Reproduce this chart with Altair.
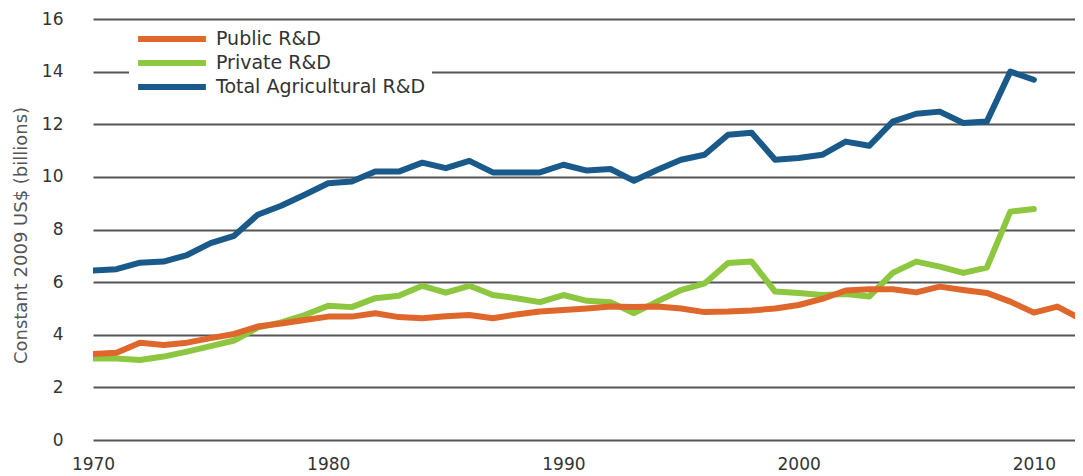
import altair as alt
import pandas as pd

years = list(range(1970, 2013))

public_rd = [3.27, 3.32, 3.70, 3.61, 3.70, 3.87, 4.03, 4.31, 4.43, 4.56,
             4.69, 4.69, 4.82, 4.67, 4.63, 4.70, 4.75, 4.63, 4.77, 4.88,
             4.94, 5.00, 5.07, 5.05, 5.07, 5.00, 4.86, 4.88, 4.92, 5.00,
             5.13, 5.36, 5.68, 5.73, 5.73, 5.61, 5.83, 5.70, 5.59, 5.26,
             4.84, 5.07, 4.60]

private_rd = [3.10, 3.10, 3.04, 3.17, 3.36, 3.57, 3.78, 4.27, 4.47, 4.75,
              5.10, 5.05, 5.39, 5.48, 5.86, 5.60, 5.86, 5.51, 5.39, 5.24,
              5.51, 5.29, 5.24, 4.82, 5.27, 5.70, 5.95, 6.73, 6.78, 5.64,
              5.59, 5.51, 5.55, 5.45, 6.35, 6.78, 6.59, 6.35, 6.55, 8.68,
              8.78]

total_rd = [6.44, 6.49, 6.74, 6.78, 7.03, 7.48, 7.76, 8.56, 8.90, 9.32,
            9.76, 9.82, 10.20, 10.20, 10.54, 10.33, 10.61, 10.17, 10.17, 10.17,
            10.46, 10.24, 10.30, 9.85, 10.27, 10.65, 10.84, 11.60, 11.68, 10.65,
            10.72, 10.84, 11.34, 11.18, 12.10, 12.40, 12.48, 12.05, 12.10, 14.00,
            13.69]

series_names = ["Public R&D", "Private R&D", "Total Agricultural R&D"]
series_colors = ["#E0672B", "#8DC63F", "#1A5A8A"]

rows = []
for name, vals in zip(series_names, [public_rd, private_rd, total_rd]):
    for yr, v in zip(years, vals):
        rows.append({"Year": yr, "Value": v, "Series": name})
df = pd.DataFrame(rows)

FONT = "DejaVu Sans"

x_enc = alt.X(
    "Year:Q",
    scale=alt.Scale(domain=[1970, 2011.75], nice=False, zero=False),
    axis=alt.Axis(
        values=[1970, 1980, 1990, 2000, 2010],
        format="d",
        title=None,
        grid=False,
        domain=False,
        ticks=False,
        labelFlush=False,
        labelPadding=16,
        labelFontSize=17,
        labelFont=FONT,
        labelColor="#333333",
    ),
)
y_enc = alt.Y(
    "Value:Q",
    scale=alt.Scale(domain=[0, 16], nice=False),
    axis=alt.Axis(
        values=[0, 2, 4, 6, 8, 10, 12, 14, 16],
        title="Constant 2009 US$ (billions)",
        titleFont=FONT,
        titleFontSize=18,
        titleFontWeight="normal",
        titleColor="#555555",
        titleX=-63,
        titleY=216,
        titleAngle=-90,
        grid=True,
        gridColor="#555555",
        gridWidth=1.8,
        domain=False,
        ticks=False,
        labelPadding=30,
        labelFontSize=17,
        labelFont=FONT,
        labelColor="#333333",
    ),
)
color_enc = alt.Color(
    "Series:N",
    scale=alt.Scale(domain=series_names, range=series_colors),
    legend=alt.Legend(
        title=None,
        orient="none",
        legendX=36,
        legendY=4,
        padding=6,
        fillColor="white",
        symbolType="stroke",
        symbolSize=4600,
        symbolStrokeWidth=6,
        clipHeight=20,
        labelFont=FONT,
        labelFontSize=19,
        labelColor="#333333",
        labelOffset=7,
        labelLimit=400,
        rowPadding=4,
    ),
)

def layer_for(name):
    return (
        alt.Chart(df)
        .transform_filter(alt.datum.Series == name)
        .mark_line(strokeWidth=6, strokeCap="round", strokeJoin="round", clip=True)
        .encode(x=x_enc, y=y_enc, color=color_enc)
    )

chart = (
    alt.layer(layer_for("Total Agricultural R&D"), layer_for("Private R&D"), layer_for("Public R&D"))
    .properties(
        width=982,
        height=421,
        autosize=alt.AutoSizeParams(type="none"),
        padding={"left": 85, "top": 11, "right": 0, "bottom": 33},
        background="white",
    )
    .configure_view(stroke=None)
)

chart.save("out.html", embed_options={"renderer": "svg", "actions": False})
